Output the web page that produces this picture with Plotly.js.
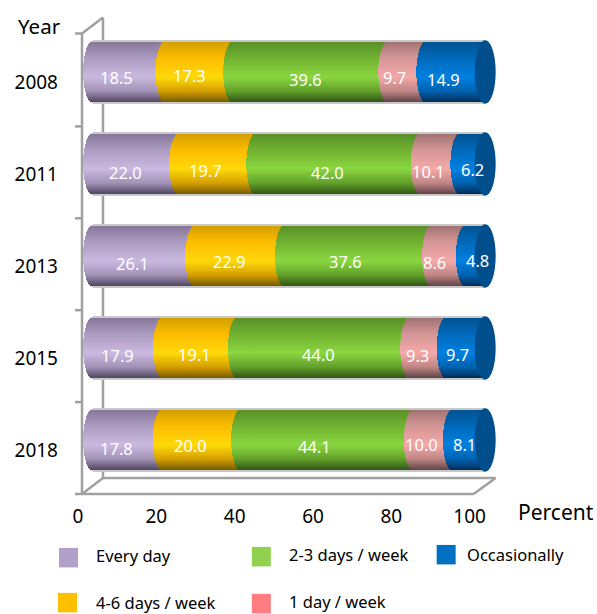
<!DOCTYPE html>
<html><head><meta charset="utf-8">
<script src="https://cdn.plot.ly/plotly-3.0.0.min.js"></script>
<style>html,body{margin:0;padding:0;background:#fff}#c{width:597px;height:614px}</style>
</head><body><div id="c"></div>
<script>
const years = ['2008','2011','2013','2015','2018'];
const everyDay = [18.5,22.0,26.1,17.9,17.8];
const fourSix = [17.3,19.7,22.9,19.1,20.0];
const twoThree = [39.6,42.0,37.6,44.0,44.1];
const oneDay = [9.7,10.1,8.6,9.3,10.0];
const occasionally = [14.9,6.2,4.8,9.7,8.1];
const xTicks = [0,20,40,60,80,100];

const W=597,H=614,L=83,T=25.5,PW=423.4,PH=460.5;
const FONT='"Noto Sans", sans-serif', GRAY='#a0a0a0';
const series=[
 {name:'Every day',v:everyDay,c:'#B1A0C7',g:['#85769a','#ad9cc1','#cab8e0','#a292b6','#4f4560']},
 {name:'4-6 days / week',v:fourSix,c:'#FFC000',g:['#d39e00','#fcbc00','#ffd90a','#d49f00','#745a00']},
 {name:'2-3 days / week',v:twoThree,c:'#92D050',g:['#578f27','#71b231','#8ad640','#62a02a','#2f5315']},
 {name:'1 day / week',v:oneDay,c:'#FF7C80',g:['#a07272','#d49696','#f5a8a8','#bf8585','#5f4245']},
 {name:'Occasionally',v:occasionally,c:'#0070C0',g:['#00528f','#0069bb','#0080e0','#0062b0','#002c58']}
];
// pixel nudges of the value labels relative to the segment middle
const nudgeX=[[-3,0,5,-3,-2],[-1,-2,-1,-2,10],[-2,-1,-3,-5,12],[-1,4,4,-1,2],[-1,-1,-3,-2,6]];
const nudgeY=[[5,3,7,5,7],[8,6,8,7,5],[7.5,5.5,5.5,6.5,4.5],[7.5,6.5,6.5,7.5,6.5],[8.5,5.5,6.5,4.5,4.5]];

const xp=(x)=>(x-L)/PW, yp=(y)=>(T+PH-y)/PH;
const line=(x0,y0,x1,y1)=>({type:'line',xref:'paper',yref:'paper',layer:'below',x0:xp(x0),x1:xp(x1),y0:yp(y0),y1:yp(y1),line:{color:GRAY,width:2.5}});
const shapes=[
 line(82,33,82,494),line(82,33,103,17),line(103,17,103,478),
 line(82,494,474,494),line(82,494,103,478),line(103,478,496,478),line(474,494,496,478)
];
[33,126,218,310,402,494].forEach(y=>shapes.push(line(75,y,82,y)));
const annotations=[];
const txt=(t,x,y,size,anchor,color)=>({text:t,xref:'paper',yref:'paper',x:xp(x),y:yp(y),xanchor:anchor||'left',yanchor:'middle',showarrow:false,font:{family:FONT,size:size,color:color||'#000'}});
annotations.push(txt('Year',16,25,20.5));
annotations.push(txt('Percent',516,512,21));
const legendPos=[[59,548,94,556],[58,593,94,603],[252,547,287,555],[252,594,287,602],[437,545,465,555]];
series.forEach((s,k)=>{
 const p=legendPos[k];
 shapes.push({type:'rect',xref:'paper',yref:'paper',layer:'above',x0:xp(p[0]),x1:xp(p[0]+19),y0:yp(p[1]),y1:yp(p[1]+19.5),fillcolor:s.c,line:{width:0}});
 annotations.push(txt(s.name,p[2],p[3],16.5));
});
const rows=years.map((_,i)=>i);
rows.forEach(i=>{
 shapes.push({type:'circle',xref:'x',yref:'y',layer:'above',xsizemode:'pixel',xanchor:100,x0:0,x1:21,y0:i-0.345,y1:i+0.345,fillcolor:'#004f8c',line:{width:0}});
 let cum=0;
 series.forEach((s,k)=>{
  const v=s.v[i];
  annotations.push({text:v.toFixed(1),xref:'x',yref:'y',x:cum+v/2,y:i,xshift:nudgeX[i][k],yshift:-nudgeY[i][k],showarrow:false,font:{family:FONT,size:16.5,color:'#fff'}});
  cum+=v;
 });
});
const traces=series.map(s=>({type:'bar',orientation:'h',name:s.name,y:rows,x:s.v,customdata:years,marker:{color:s.c,line:{width:0}},hoverinfo:'skip'}));
const layout={width:W,height:H,autosize:false,showlegend:false,barmode:'stack',bargap:0.31,
 margin:{l:L,t:T,r:W-L-PW,b:H-T-PH,pad:0},paper_bgcolor:'#fff',plot_bgcolor:'rgba(0,0,0,0)',
 xaxis:{range:[0,108],tickvals:xTicks,ticktext:xTicks.map(String),showgrid:false,zeroline:false,showline:false,ticks:'',ticklabelstandoff:17,ticklabelshift:-5,tickfont:{family:FONT,size:19,color:'#000'}},
 yaxis:{type:'linear',range:[4.5,-0.5],tickmode:'array',tickvals:rows.map(i=>i+0.114),ticktext:years,showgrid:false,zeroline:false,showline:false,ticks:'',ticklabelstandoff:24,tickfont:{family:FONT,size:19,color:'#000'}},
 shapes:shapes,annotations:annotations};
Plotly.newPlot('c',traces,layout,{staticPlot:true,displayModeBar:false}).then(gd=>{
 const svg=gd.querySelector('svg.main-svg');
 const defs=svg.querySelector('defs');
 const NS='http://www.w3.org/2000/svg';
 series.forEach((s,k)=>{
  const lg=document.createElementNS(NS,'linearGradient');
  lg.setAttribute('id','cyl'+k);lg.setAttribute('x1','0');lg.setAttribute('x2','0');lg.setAttribute('y1','0');lg.setAttribute('y2','1');
  [[0,'#c8c8c8'],[0.02,'#c8c8c8'],[0.025,s.g[0]],[0.28,s.g[1]],[0.58,s.g[2]],[0.8,s.g[3]],[0.975,s.g[4]],[0.98,'#c8c8c8'],[1,'#c8c8c8']].forEach(a=>{
   const st=document.createElementNS(NS,'stop');st.setAttribute('offset',a[0]);st.setAttribute('stop-color',a[1]);lg.appendChild(st);
  });
  defs.appendChild(lg);
 });
 const rx=10.5;
 gd.querySelectorAll('.barlayer .trace').forEach((tr,k)=>{
  const rr=k===series.length-1?rx-0.6:rx;
  tr.querySelectorAll('.point path').forEach(p=>{
   const b=p.getBBox(),x0=b.x,x1=b.x+b.width,y0=b.y,y1=b.y+b.height,ry=b.height/2;
   p.setAttribute('d',`M${x0+rx},${y0}A${rx},${ry} 0 0 0 ${x0+rx},${y1}H${x1+rx}A${rr},${ry} 0 0 0 ${x1+rx},${y0}Z`);
   p.style.fill=`url(#cyl${k})`;
  });
 });
});
</script></body></html>
